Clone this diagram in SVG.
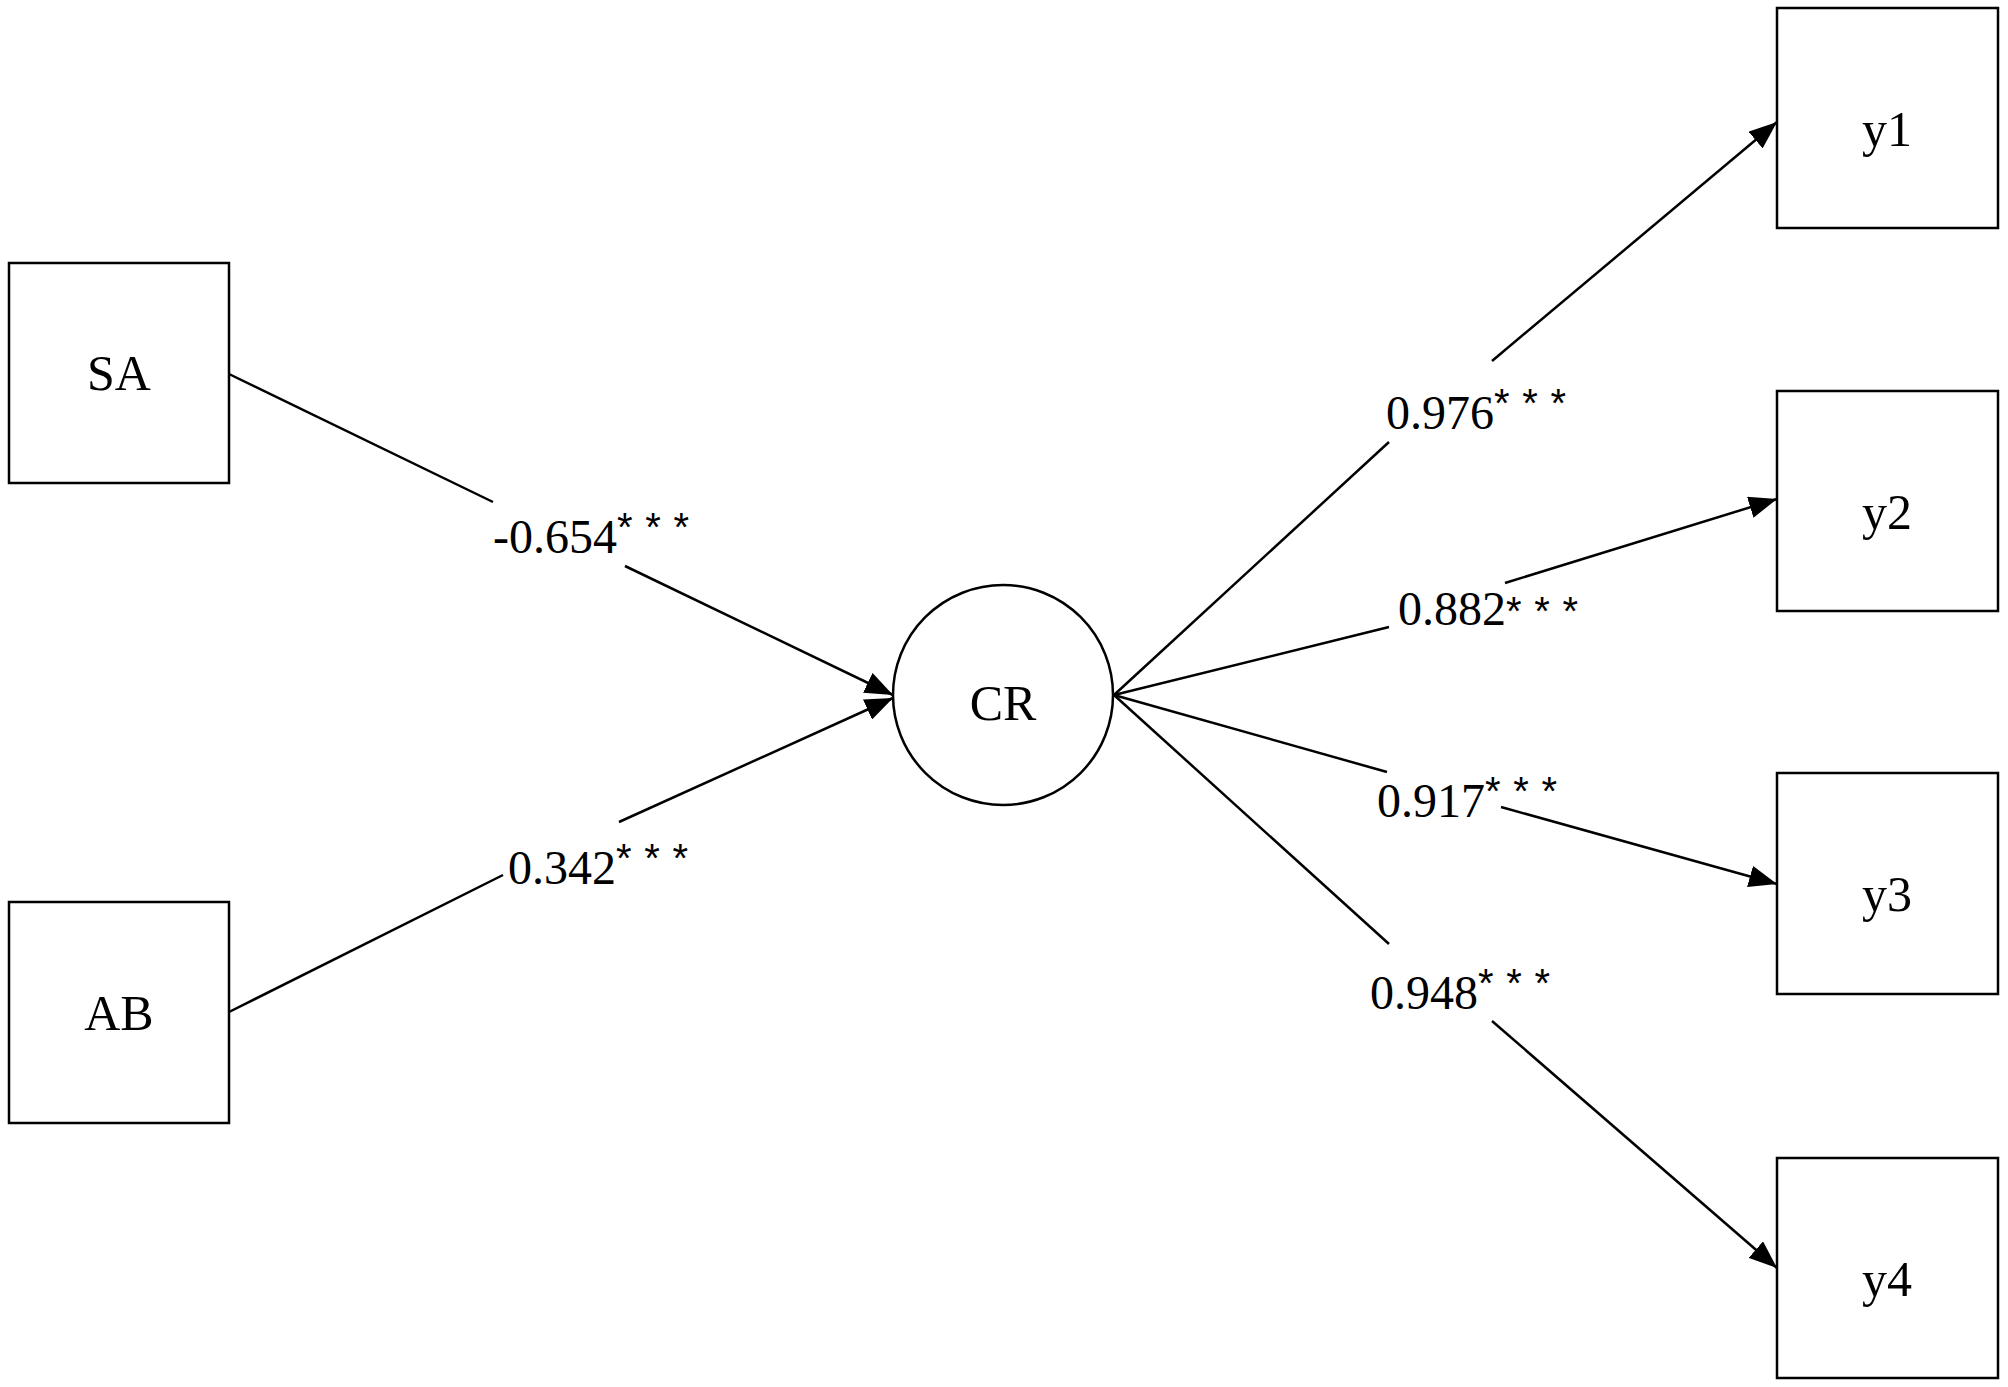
<svg xmlns="http://www.w3.org/2000/svg" width="2008" height="1387" viewBox="0 0 2008 1387">
<style>
.box{fill:#fff;stroke:#000;stroke-width:2.5}
.n{font-family:"Liberation Serif",serif;font-size:50px;text-anchor:middle}
.l{font-family:"Liberation Serif",serif;font-size:48px}
.s{font-family:"Liberation Sans",sans-serif;font-size:40px}
.c line{stroke:#000;stroke-width:2.5}
</style>
<defs><marker id="a" markerWidth="12" markerHeight="10" refX="11" refY="5" orient="auto" markerUnits="userSpaceOnUse" viewBox="0 0 12 10"><path d="M0,0L12,5L0,10z"/></marker>
<marker id="b" markerWidth="28" markerHeight="22" refX="28" refY="11" orient="auto" markerUnits="userSpaceOnUse"><path d="M0,0L28,11L0,22z"/></marker></defs>
<rect width="2008" height="1387" fill="#fff"/>
<g class="c">
<line x1="229" y1="374" x2="493" y2="502"/><line x1="625" y1="566" x2="893" y2="695" marker-end="url(#b)"/>
<line x1="229" y1="1012" x2="503" y2="875"/><line x1="619" y1="822" x2="893" y2="698" marker-end="url(#b)"/>
<line x1="1114" y1="695" x2="1389" y2="442"/><line x1="1492" y1="361" x2="1777" y2="122" marker-end="url(#b)"/>
<line x1="1114" y1="695" x2="1389" y2="627"/><line x1="1505" y1="583" x2="1777" y2="499" marker-end="url(#b)"/>
<line x1="1114" y1="695" x2="1387" y2="772"/><line x1="1501" y1="807" x2="1777" y2="884" marker-end="url(#b)"/>
<line x1="1114" y1="695" x2="1389" y2="944"/><line x1="1492" y1="1021" x2="1777" y2="1268" marker-end="url(#b)"/>
</g>
<g id="SA"><rect class="box" x="9" y="263" width="220" height="220"/><text class="n" x="119" y="390">SA</text></g>
<g id="AB"><rect class="box" x="9" y="902" width="220" height="221"/><text class="n" x="119" y="1030">AB</text></g>
<g id="CR"><circle class="box" cx="1003" cy="695" r="110"/><text class="n" x="1003" y="720">CR</text></g>
<g id="y1"><rect class="box" x="1777" y="8" width="221" height="220"/><text class="n" x="1887" y="146">y1</text></g>
<g id="y2"><rect class="box" x="1777" y="391" width="221" height="220"/><text class="n" x="1887" y="529">y2</text></g>
<g id="y3"><rect class="box" x="1777" y="773" width="221" height="221"/><text class="n" x="1887" y="911">y3</text></g>
<g id="y4"><rect class="box" x="1777" y="1158" width="221" height="220"/><text class="n" x="1887" y="1296">y4</text></g>
<g id="labels">
<text class="l" x="493" y="553">-0.654<tspan class="s" dy="-12" textLength="72">***</tspan></text>
<text class="l" x="508" y="884">0.342<tspan class="s" dy="-12" textLength="72">***</tspan></text>
<text class="l" x="1386" y="429">0.976<tspan class="s" dy="-12" textLength="72">***</tspan></text>
<text class="l" x="1398" y="625">0.882<tspan class="s" textLength="72">***</tspan></text>
<text class="l" x="1377" y="817">0.917<tspan class="s" dy="-12" textLength="72">***</tspan></text>
<text class="l" x="1370" y="1009">0.948<tspan class="s" dy="-12" textLength="72">***</tspan></text>
</g>
</svg>
